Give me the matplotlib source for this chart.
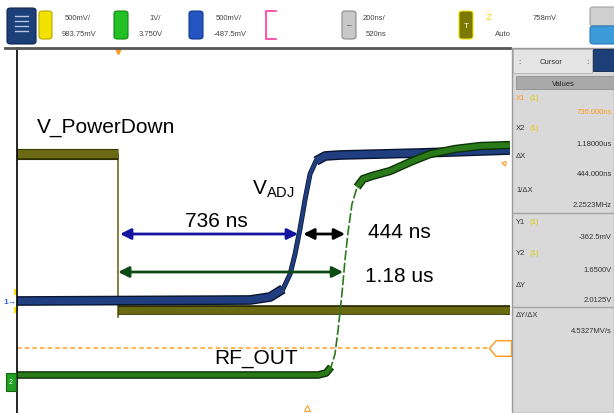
import matplotlib.pyplot as plt
import matplotlib.patheffects as pe
from matplotlib.patches import Rectangle, FancyBboxPatch
from matplotlib.path import Path

plt.rcParams['font.family'] = ['Liberation Sans', 'DejaVu Sans']

# waveform data: time in ns (trigger edge at 0), level in volts (screen units)
pd_t = [-410, 0, 0, 1590]
pd_v = [2.59, 2.59, 1.03, 1.03]
pd_edge_v = [2.59, 0.96]

vadj_t = [-410, 535, 617, 669, 698, 718, 738, 759, 779, 803, 840, 901, 1225, 1590]
vadj_v = [1.12, 1.13, 1.16, 1.24, 1.39, 1.59, 1.84, 2.14, 2.39, 2.52, 2.57, 2.58, 2.60, 2.63]

rf_t = [-410, 811, 844, 864, 880, 893, 909, 921, 933, 949, 970, 994, 1030, 1104,
        1185, 1266, 1367, 1469, 1590]
rf_v = [0.38, 0.38, 0.40, 0.46, 0.59, 0.84, 1.21, 1.54, 1.81, 2.09, 2.26, 2.34, 2.37,
        2.42, 2.51, 2.59, 2.64, 2.67, 2.68]

trig_level = 0.65

# measurement arrows (start, end, level)
m_blue = (8, 730, 1.79)
m_black = (751, 921, 1.79)
m_green = (0, 913, 1.41)

header_top = ["500mV/", "1V/", "500mV/", "200ns/", "758mV"]
header_bot = ["983.75mV", "3.750V", "-487.5mV", "520ns", "Auto"]

cursor_labels = ["X1", "X2", "\u0394X", "1/\u0394X", "Y1", "Y2", "\u0394Y", "\u0394Y/\u0394X"]
cursor_values = ["736.000ns", "1.18000us", "444.000ns", "2.2523MHz",
                 "-362.5mV", "1.6500V", "2.0125V", "4.5327MV/s"]

W, H = 614, 414
fig = plt.figure(figsize=(W / 100, H / 100), dpi=100)
fig.patch.set_facecolor('white')


def fx(x):
    return x / W


def fy(y):
    return 1 - y / H


ax = fig.add_axes([fx(17), 0, fx(510) - fx(17), fy(49)])
ax.set_xlim(-410, 1590)
ax.set_ylim(0, 3.65)
ax.set_xticks([])
ax.set_yticks([])
for s in ['bottom', 'right']:
    ax.spines[s].set_visible(False)
ax.spines['left'].set_color('black')
ax.spines['left'].set_linewidth(1.2)
ax.spines['top'].set_color('#555555')
ax.spines['top'].set_linewidth(2)


def band(x, y, face, edge, lw):
    ax.plot(x, y, color=face, lw=lw, solid_capstyle='butt', solid_joinstyle='round',
            path_effects=[pe.Stroke(linewidth=lw + 2, foreground=edge), pe.Normal()])


# V_PowerDown (olive)
ax.plot([pd_t[1], pd_t[2]], pd_edge_v, color='#6b6b22', lw=1.2)
band(pd_t[:2], pd_v[:2], '#6a6a12', '#2e2e00', 6)
band(pd_t[2:], pd_v[2:], '#6a6a12', '#2e2e00', 5)

# V_ADJ (blue)
ax.plot(vadj_t, vadj_v, color='#1f3c7c', lw=2.6,
        path_effects=[pe.Stroke(linewidth=3.6, foreground='#0a1838'), pe.Normal()])
band(vadj_t[:4], vadj_v[:4], '#213f80', '#081530', 5)
band(vadj_t[9:], vadj_v[9:], '#213f80', '#081530', 5)

# RF_OUT (green)
ax.plot(rf_t, rf_v, color='#2a7a1a', lw=1.2, ls=(0, (6, 1.5)))
band(rf_t[:4], rf_v[:4], '#2a7a1a', '#0a3304', 3.5)
band(rf_t[10:], rf_v[10:], '#2a7a1a', '#0a3304', 4)

# trigger level
ax.plot([-410, 1510], [trig_level, trig_level], color='#ffa028', lw=1.1,
        ls=(0, (3, 2)))
tag = Path([(-1, 0), (-0.4, 0.7), (1, 0.7), (1, -0.7), (-0.4, -0.7), (-1, 0)])
ax.plot([1550], [trig_level], marker=tag, ms=16, mfc='none', mec='#ffa028', mew=1.1,
        clip_on=False)
ax.plot([0], [3.62], marker='v', ms=5, color='#ff9a1a', clip_on=False)
ax.plot([1565], [2.50], marker=(3, 0, 200), ms=4, mfc='none', mec='#ffa028', mew=0.8)
ax.plot([765], [0.05], marker='^', ms=4, mfc='none', mec='#ffa028', mew=0.8,
        clip_on=False)

# measurement arrows
for (a, b, lvl), col in [(m_blue, '#1414a0'), (m_black, 'black'), (m_green, '#0b4a12')]:
    ax.annotate('', xy=(b, lvl), xytext=(a, lvl),
                arrowprops=dict(arrowstyle='<|-|>', color=col, lw=2,
                                mutation_scale=16, shrinkA=0, shrinkB=0))

# labels
fs = 15
ax.text(-329, 2.81, "V_PowerDown", fontsize=fs, va='baseline')
ax.text(560, 0.50, "RF_OUT", fontsize=fs, va='baseline', ha='center')
ax.text(400, 1.87, "736 ns", fontsize=fs, va='baseline', ha='center')
ax.text(1014, 1.76, "444 ns", fontsize=fs, va='baseline')
ax.text(1002, 1.32, "1.18 us", fontsize=fs, va='baseline')
ax.text(544, 2.19, r"$\mathregular{V_{ADJ}}$", fontsize=fs, va='baseline')

# ---- scope chrome ----
fig.add_artist(plt.Line2D([fx(5), fx(17)], [fy(49), fy(49)], color='#555555', lw=2))

# left channel markers
fig.add_artist(Rectangle((fx(6), fy(392)), fx(10), fy(374) - fy(392),
                         facecolor='#22a022', edgecolor='#116611', lw=0.8))
fig.text(fx(11), fy(383), "2", fontsize=5, color='white', ha='center', va='center')
fig.text(fx(10), fy(302), "1\u2192", fontsize=6, color='#3060d0', ha='center',
         va='center', fontweight='bold')
fig.add_artist(plt.Line2D([fx(15), fx(15)], [fy(291), fy(295)], color='#ffe000', lw=1.5))
fig.add_artist(plt.Line2D([fx(15), fx(15)], [fy(309), fy(313)], color='#ffe000', lw=1.5))

# header icons (x0, x1, y0, y1, face, edge)
icons = [
    (7, 36, 9, 45, '#1c3f78', '#0f2550'),
    (39, 52, 12, 40, '#f2e200', '#b8a800'),
    (114, 128, 12, 40, '#22c022', '#118811'),
    (189, 203, 12, 40, '#2454c0', '#123a90'),
    (342, 356, 12, 40, '#c8c8c8', '#8a8a8a'),
    (459, 473, 12, 40, '#7a7a00', '#f0e000'),
    (590, 620, 8, 27, '#cfcfcf', '#a0a0a0'),
    (590, 620, 27, 45, '#3c9ad8', '#2a7ab8'),
]
for x0, x1, y0, y1, fc, ec in icons:
    fig.add_artist(FancyBboxPatch((fx(x0), fy(y1)), fx(x1) - fx(x0), fy(y0) - fy(y1),
                                  boxstyle='round,pad=0,rounding_size=0.006',
                                  facecolor=fc, edgecolor=ec, lw=0.8))
fig.text(fx(466), fy(26), "T", fontsize=6, color='white', ha='center', va='center')
fig.text(fx(349), fy(26), "\u2013", fontsize=6, color='#333333', ha='center', va='center')
for i in range(4):
    fig.add_artist(plt.Line2D([fx(15), fx(28)], [fy(17 + 5 * i), fy(17 + 5 * i)],
                              color='#b0c4e8', lw=1))
# magenta bracket
fig.add_artist(plt.Line2D([fx(276), fx(266), fx(266), fx(276)],
                          [fy(12), fy(12), fy(40), fy(40)], color='#ff3aa0', lw=1.2))

hx_top = [65, 149, 216, 363, 533]
hx_bot = [62, 139, 214, 366, 495]
for x, t in zip(hx_top, header_top):
    fig.text(fx(x), fy(18), t, fontsize=5.5, color='#444444', va='center')
for x, t in zip(hx_bot, header_bot):
    fig.text(fx(x), fy(35), t, fontsize=5.5, color='#444444', va='center')
fig.text(fx(486), fy(18), "\u2124", fontsize=6, color='#e8d800', va='center')

# right cursor panel
fig.add_artist(Rectangle((fx(512), 0), fx(614) - fx(512), fy(49), facecolor='#d9d9d9',
                         edgecolor='#9a9a9a', lw=1))
fig.add_artist(Rectangle((fx(513), fy(74)), fx(592) - fx(513), fy(50) - fy(74),
                         facecolor='#e4e4e4', edgecolor='#b0b0b0', lw=0.6))
fig.add_artist(Rectangle((fx(593), fy(72)), fx(614) - fx(593), fy(50) - fy(72),
                         facecolor='#1c3f78', edgecolor='#0f2550', lw=0.6))
fig.text(fx(551), fy(62), "Cursor", fontsize=5.5, color='#333333', ha='center',
         va='center')
fig.text(fx(518), fy(62), ":", fontsize=6, color='#333333', va='center')
fig.text(fx(586), fy(62), ":", fontsize=6, color='#333333', va='center')
fig.add_artist(Rectangle((fx(516), fy(90)), fx(614) - fx(516), fy(77) - fy(90),
                         facecolor='#a9a9a9', edgecolor='#8f8f8f', lw=0.6))
fig.text(fx(563), fy(84), "Values", fontsize=5.5, color='#222222', ha='center',
         va='center')

lab_y = [99, 129, 157, 190, 223, 254, 286, 316]
val_y = [113, 145, 175, 206, 238, 270, 301, 332]
for i, (lab, val) in enumerate(zip(cursor_labels, cursor_values)):
    col = '#ff9a1a' if i == 0 else '#333333'
    fig.text(fx(516), fy(lab_y[i]), lab, fontsize=5.5, color=col, va='center')
    if lab in ("X1", "X2", "Y1", "Y2"):
        fig.text(fx(529), fy(lab_y[i]), "(1)", fontsize=5.5, color='#e0c800',
                 va='center')
    fig.text(fx(612), fy(val_y[i]), val, fontsize=5.5, color=col, ha='right',
             va='center')
for y in [214, 308]:
    fig.add_artist(plt.Line2D([fx(513), fx(614)], [fy(y), fy(y)], color='#a5a5a5', lw=1))

fig.savefig('out.png', dpi=100)
